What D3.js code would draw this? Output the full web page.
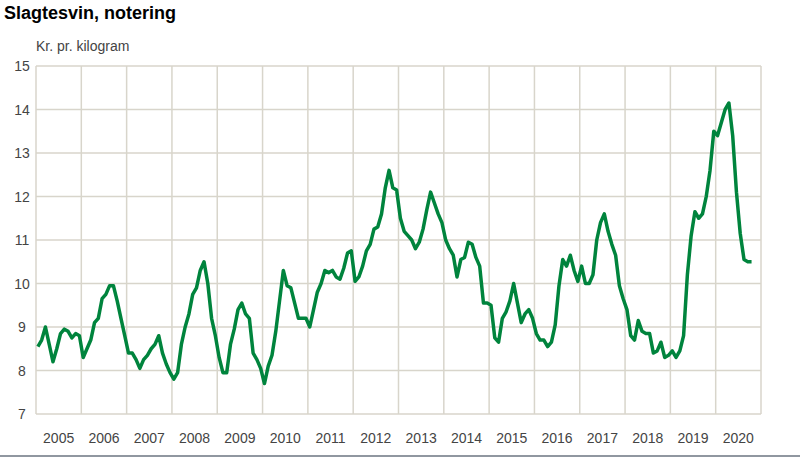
<!DOCTYPE html>
<html>
<head>
<meta charset="utf-8">
<script src="https://cdn.jsdelivr.net/npm/d3@7"></script>
<style>
  body { margin: 0; background: #fff; }
  text { font-family: "Liberation Sans", Arial, sans-serif; }
</style>
</head>
<body>
<div id="chart"></div>
<script>
// Monthly quotes, Jan 2005 - Sep 2020
let years = ["2005","2006","2007","2008","2009","2010","2011","2012","2013","2014","2015","2016","2017","2018","2019","2020"];
let yTicks = [7, 8, 9, 10, 11, 12, 13, 14, 15];
let prices = [
  8.55, 8.7, 9.0, 8.6, 8.2, 8.5, 8.85, 8.95, 8.9, 8.75, 8.85, 8.8,
  8.3, 8.5, 8.7, 9.1, 9.2, 9.65, 9.75, 9.95, 9.95, 9.6, 9.2, 8.8,
  8.4, 8.4, 8.25, 8.05, 8.25, 8.35, 8.5, 8.6, 8.8, 8.4, 8.15, 7.95,
  7.8, 7.95, 8.6, 9.0, 9.3, 9.75, 9.9, 10.3, 10.5, 10.0, 9.2, 8.8,
  8.3, 7.95, 7.95, 8.6, 8.95, 9.4, 9.55, 9.3, 9.2, 8.4, 8.25, 8.05,
  7.7, 8.1, 8.35, 8.9, 9.6, 10.3, 9.95, 9.9, 9.55, 9.2, 9.2, 9.2,
  9.0, 9.4, 9.8, 10.0, 10.3, 10.25, 10.3, 10.15, 10.1, 10.35, 10.7, 10.75,
  10.05, 10.15, 10.4, 10.75, 10.9, 11.25, 11.3, 11.6, 12.2, 12.6, 12.2, 12.15,
  11.5, 11.2, 11.1, 11.0, 10.8, 10.95, 11.25, 11.7, 12.1, 11.85, 11.6, 11.4,
  11.0, 10.8, 10.65, 10.15, 10.55, 10.6, 10.95, 10.9, 10.6, 10.4, 9.55, 9.55,
  9.5, 8.75, 8.65, 9.2, 9.35, 9.6, 10.0, 9.55, 9.1, 9.3, 9.4, 9.2,
  8.85, 8.7, 8.7, 8.55, 8.65, 9.05, 9.95, 10.55, 10.4, 10.65, 10.3, 10.05,
  10.4, 10.0, 10.0, 10.2, 11.0, 11.4, 11.6, 11.2, 10.9, 10.65, 9.95, 9.65,
  9.4, 8.8, 8.7, 9.15, 8.9, 8.85, 8.85, 8.4, 8.45, 8.65, 8.3, 8.35,
  8.45, 8.3, 8.45, 8.8, 10.2, 11.1, 11.65, 11.5, 11.6, 12.0, 12.6, 13.5,
  13.4, 13.7, 14.0, 14.15, 13.4, 12.1, 11.15, 10.55, 10.5, 10.5
];

let W = 800, H = 459;
let plotLeft = 36, plotRight = 761, plotTop = 66, plotBottom = 414;

let svg = d3.select("#chart").append("svg")
    .attr("width", W)
    .attr("height", H);

let x = d3.scaleLinear()
    .domain([0, years.length * 12])
    .range([plotLeft, plotRight]);

let y = d3.scaleLinear()
    .domain([7, 15])
    .range([plotBottom, plotTop]);

// horizontal grid
svg.append("g").selectAll("line")
    .data(yTicks)
    .enter().append("line")
    .attr("x1", plotLeft).attr("x2", plotRight)
    .attr("y1", d => y(d)).attr("y2", d => y(d))
    .attr("stroke", "#d8d5cb")
    .attr("stroke-width", 1.5);

// vertical grid at year boundaries
svg.append("g").selectAll("line")
    .data(d3.range(years.length + 1))
    .enter().append("line")
    .attr("x1", d => x(d * 12)).attr("x2", d => x(d * 12))
    .attr("y1", plotTop).attr("y2", plotBottom)
    .attr("stroke", "#d8d5cb")
    .attr("stroke-width", 1.5);

// y labels
svg.append("g").selectAll("text")
    .data(yTicks)
    .enter().append("text")
    .attr("x", 22)
    .attr("y", d => y(d) + 5)
    .attr("text-anchor", "middle")
    .attr("font-size", 14)
    .attr("fill", "#444")
    .text(d => d);

// year labels
svg.append("g").selectAll("text")
    .data(years)
    .enter().append("text")
    .attr("x", (d, i) => x(i * 12 + 6))
    .attr("y", 443)
    .attr("text-anchor", "middle")
    .attr("font-size", 14)
    .attr("fill", "#444")
    .text(d => d);

// bottom rule
svg.append("line")
    .attr("x1", 0).attr("x2", W)
    .attr("y1", 456).attr("y2", 456)
    .attr("stroke", "#6b7580")
    .attr("stroke-width", 1.5);

let line = d3.line()
    .x((d, i) => x(i + 0.5))
    .y(d => y(d));

svg.append("path")
    .datum(prices)
    .attr("fill", "none")
    .attr("stroke", "#00843d")
    .attr("stroke-width", 3.5)
    .attr("stroke-linejoin", "round")
    .attr("d", line);

svg.append("text")
    .attr("x", 4).attr("y", 19)
    .attr("font-size", 18)
    .attr("font-weight", "bold")
    .attr("fill", "#000")
    .text("Slagtesvin, notering");

svg.append("text")
    .attr("x", 36).attr("y", 51)
    .attr("font-size", 14)
    .attr("fill", "#444")
    .text("Kr. pr. kilogram");
</script>
</body>
</html>
